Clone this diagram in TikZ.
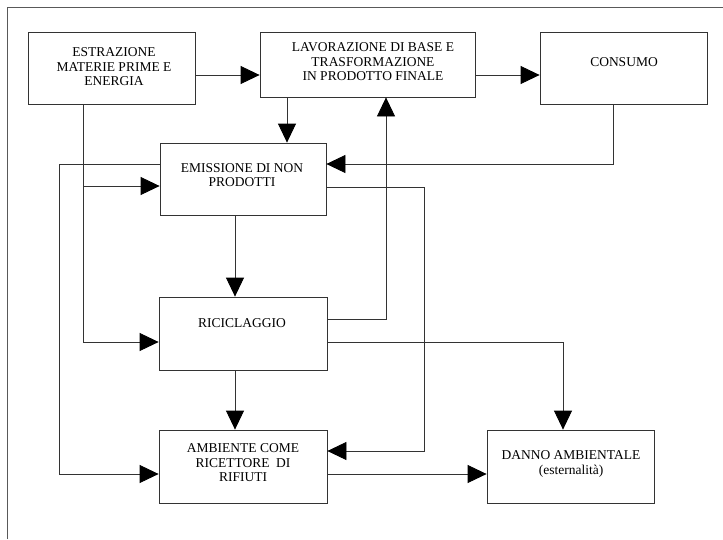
\documentclass[tikz,border=0pt]{standalone}
\usepackage{fontspec}
\setmainfont{Liberation Serif}
\usetikzlibrary{arrows.meta}
\begin{document}
\begin{tikzpicture}[x=1pt,y=-1pt,
  box/.style={draw=black!80,line width=0.8pt,rectangle,inner sep=0pt},
  lbl/.style={align=center,font=\fontsize{13.5}{14.5}\selectfont,text=black,inner sep=0pt},
  conn/.style={draw=black!80,line width=0.8pt},
  arr/.style={conn,-{Triangle[length=19pt,width=18pt,color=black,fill=black]}}]
\useasboundingbox (0,0) rectangle (723,539);
\draw[draw=black!65,line width=0.8pt] (7,539) -- (7,7) -- (723,7);
% boxes
\node[box,minimum width=167pt,minimum height=72pt] (estr) at (111.5,68) {};
\node[box,minimum width=215pt,minimum height=65pt] (lav) at (367.5,64.5) {};
\node[box,minimum width=167pt,minimum height=72pt] (cons) at (623.5,68) {};
\node[box,minimum width=166pt,minimum height=72pt] (emis) at (243,179) {};
\node[box,minimum width=168pt,minimum height=73pt] (ric) at (243,333.5) {};
\node[box,minimum width=168pt,minimum height=73pt] (amb) at (243,466.5) {};
\node[box,minimum width=167pt,minimum height=73pt] (danno) at (570.5,466.5) {};
% labels
\node[lbl] (testr) at (114,67) {ESTRAZIONE\\MATERIE PRIME E\\ENERGIA};
\node[lbl] (tlav) at (373,62) {LAVORAZIONE DI BASE E\\TRASFORMAZIONE\\IN PRODOTTO FINALE};
\node[lbl] (tcons) at (624,62) {CONSUMO};
\node[lbl] (temis) at (242,175) {EMISSIONE DI NON\\PRODOTTI};
\node[lbl] (tric) at (242,323) {RICICLAGGIO};
\node[lbl] (tamb) at (243,463) {AMBIENTE COME\\RICETTORE\ \ DI\\RIFIUTI};
\node[lbl] (tdanno) at (571,464) {DANNO AMBIENTALE\\(esternalità)};
% junction coordinates
\coordinate (j1) at (83,186);
\coordinate (c1) at (59,164);
\coordinate (c2) at (59,474);
\coordinate (c3) at (424,187);
\coordinate (c4) at (424,451);
% connectors
\draw[arr] (estr.east |- 0,75) -- (lav.west |- 0,75);
\draw[arr] (lav.east |- 0,75) -- (cons.west |- 0,75);
\draw[arr] (lav.south -| 287,0) -- (emis.north -| 287,0);
\draw[arr] (cons.south -| 613,0) |- (emis.east |- 0,164);
\draw[arr] (estr.south -| 83,0) |- (ric.west |- 0,342);
\draw[arr] (j1) -- (emis.west |- j1);
\draw[arr] (emis.west |- c1) -- (c1) -- (c2) -- (amb.west |- c2);
\draw[arr] (emis.east |- c3) -- (c3) -- (c4) -- (amb.east |- c4);
\draw[arr] (emis.south -| 235,0) -- (ric.north -| 235,0);
\draw[arr] (ric.east |- 0,319) -| (lav.south -| 386,0);
\draw[arr] (ric.east |- 0,342) -| (danno.north -| 563,0);
\draw[arr] (ric.south -| 235,0) -- (amb.north -| 235,0);
\draw[arr] (amb.east |- 0,474) -- (danno.west |- 0,474);
\end{tikzpicture}
\end{document}
